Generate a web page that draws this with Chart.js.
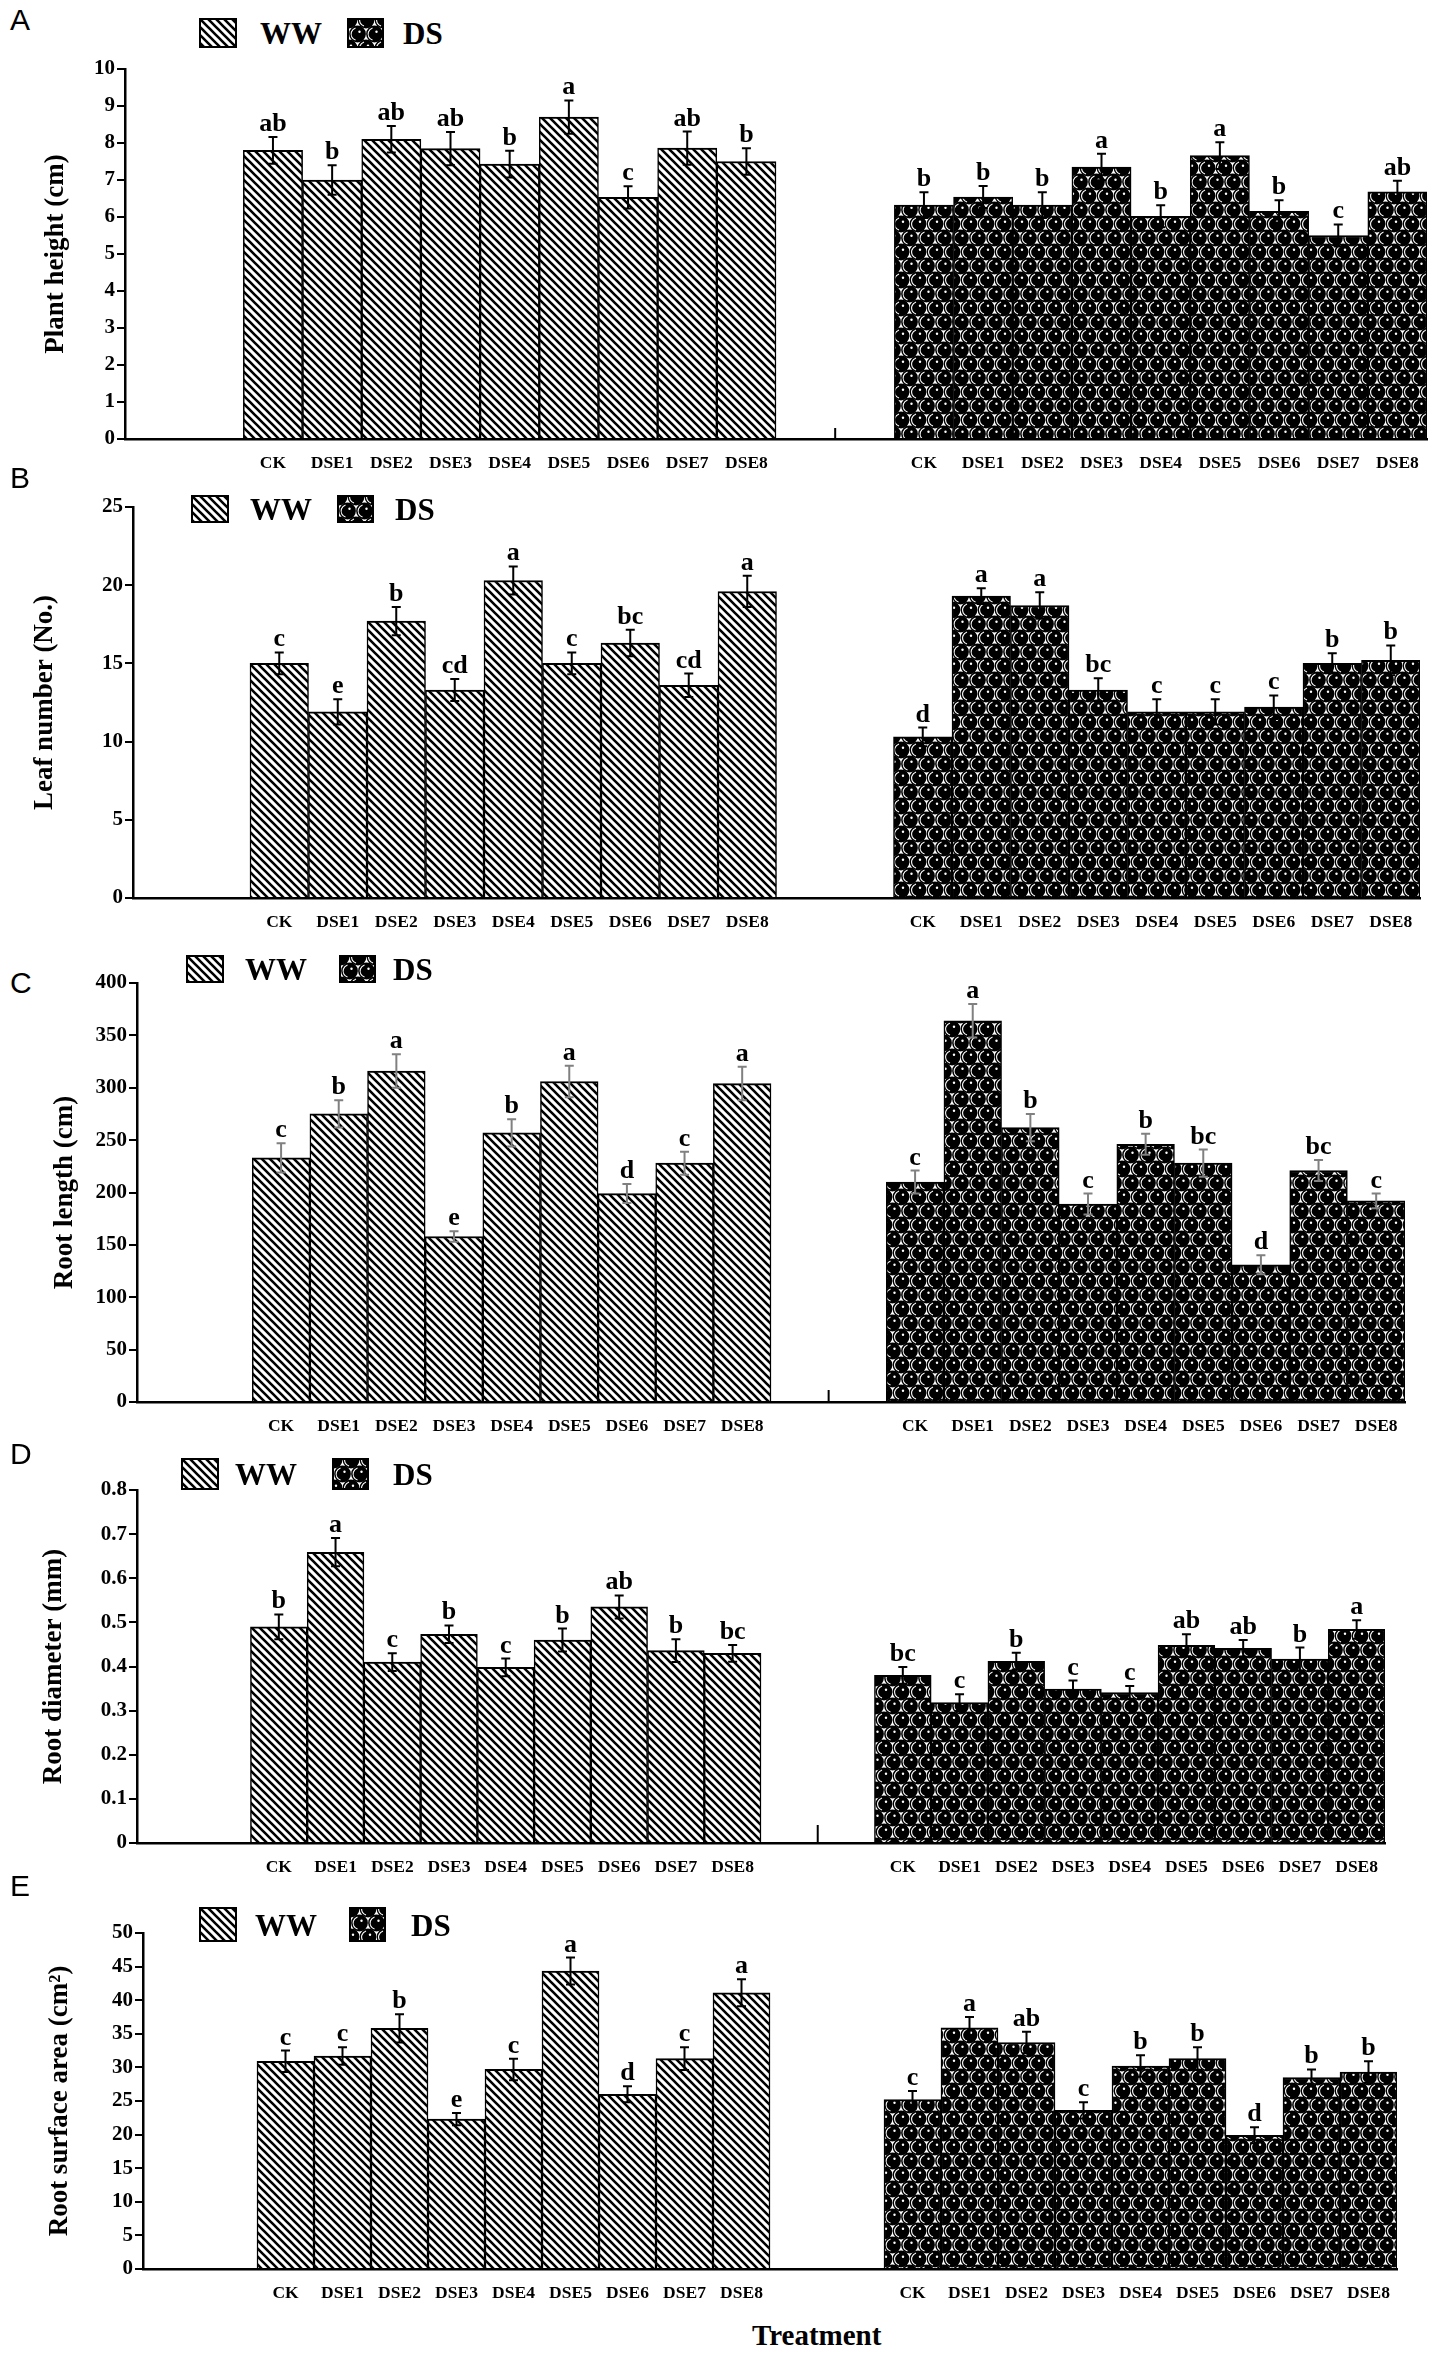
<!DOCTYPE html>
<html>
<head>
<meta charset="utf-8">
<script src="https://cdn.jsdelivr.net/npm/chart.js@4.4.1/dist/chart.umd.min.js"></script>
<style>
html,body{margin:0;padding:0;background:#fff;}
#page{position:relative;width:1450px;height:2359px;overflow:hidden;background:#fff;}
canvas.panel{position:absolute;left:0;}
.plet{position:absolute;font-family:"Liberation Sans",Arial,sans-serif;font-size:30px;line-height:1;color:#000;}
.lbox{position:absolute;border:2px solid #000;box-sizing:border-box;}
.ltxt{position:absolute;font-family:"Liberation Serif","Times New Roman",serif;font-weight:bold;font-size:31px;line-height:1;color:#000;}
#xtitle{position:absolute;left:752px;top:2321px;font-family:"Liberation Serif","Times New Roman",serif;font-weight:bold;font-size:29px;line-height:1;color:#000;}
</style>
</head>
<body>
<div id="page"><div id="xtitle">Treatment</div></div>
<script>
// ---------------- DATA ----------------
const categories = ['CK','DSE1','DSE2','DSE3','DSE4','DSE5','DSE6','DSE7','DSE8'];
const seriesNames = ['WW','DS'];

// A: Plant height (cm)
const heightWW    = [7.8, 7.0, 8.1, 7.85, 7.43, 8.7, 6.53, 7.86, 7.5];
const heightWWErr = [0.36, 0.4, 0.36, 0.45, 0.36, 0.45, 0.3, 0.45, 0.36];
const heightWWSig = ['ab','b','ab','ab','b','a','c','ab','b'];
const heightDS    = [6.32, 6.54, 6.32, 7.35, 6.02, 7.66, 6.15, 5.5, 6.68];
const heightDSErr = [0.35, 0.3, 0.35, 0.36, 0.3, 0.36, 0.3, 0.3, 0.3];
const heightDSSig = ['b','b','b','a','b','a','b','c','ab'];

// B: Leaf number (No.)
const leafWW    = [15.0, 11.9, 17.7, 13.3, 20.3, 15.0, 16.3, 13.6, 19.6];
const leafWWErr = [0.7, 0.8, 0.9, 0.7, 0.9, 0.7, 0.85, 0.75, 1.0];
const leafWWSig = ['c','e','b','cd','a','c','bc','cd','a'];
const leafDS    = [10.3, 19.3, 18.7, 13.3, 11.9, 11.9, 12.2, 15.0, 15.2];
const leafDSErr = [0.6, 0.5, 0.85, 0.75, 0.8, 0.8, 0.75, 0.65, 0.95];
const leafDSSig = ['d','a','a','bc','c','c','c','b','b'];

// C: Root length (cm)
const lengthWW    = [233, 275, 316, 158, 257, 306, 199, 228, 304];
const lengthWWErr = [14, 13, 16, 5, 13, 15, 9, 11, 16];
const lengthWWSig = ['c','b','a','e','b','a','d','c','a'];
const lengthDS    = [210, 364, 262, 189, 246, 228, 131, 221, 192];
const lengthDSErr = [11, 16, 13, 10, 10, 13, 9, 10, 7];
const lengthDSSig = ['c','a','b','c','b','bc','d','bc','c'];

// D: Root diameter (mm)
const diamWW    = [0.49, 0.659, 0.41, 0.473, 0.398, 0.46, 0.535, 0.436, 0.43];
const diamWWErr = [0.028, 0.032, 0.02, 0.02, 0.02, 0.026, 0.026, 0.026, 0.019];
const diamWWSig = ['b','a','c','b','c','b','ab','b','bc'];
const diamDS    = [0.38, 0.318, 0.412, 0.349, 0.341, 0.448, 0.441, 0.417, 0.484];
const diamDSErr = [0.019, 0.019, 0.019, 0.019, 0.015, 0.025, 0.019, 0.026, 0.021];
const diamDSSig = ['bc','c','b','c','c','ab','ab','b','a'];

// E: Root surface area (cm2)
const areaWW    = [30.9, 31.7, 35.8, 22.3, 29.7, 44.35, 26.0, 31.3, 41.1];
const areaWWErr = [1.6, 1.3, 2.1, 0.9, 1.6, 2.0, 1.2, 1.7, 2.0];
const areaWWSig = ['c','c','b','e','c','a','d','c','a'];
const areaDS    = [25.2, 35.9, 33.7, 23.6, 30.2, 31.3, 19.9, 28.5, 29.3];
const areaDSErr = [1.3, 1.6, 1.6, 1.2, 1.6, 1.7, 1.2, 1.2, 1.6];
const areaDSSig = ['c','a','ab','c','b','b','d','b','b'];

// y-axis titles and ranges
const yTitles = ['Plant height (cm)','Leaf number (No.)','Root length (cm)','Root diameter (mm)','Root surface area (cm²)'];
const yMax  = [10, 25, 400, 0.8, 50];
const yStep = [1, 5, 50, 0.1, 5];
const panelLetters = ['A','B','C','D','E'];

// ---------------- PATTERNS ----------------
function makeHatchTile() {
  const t = document.createElement('canvas'); t.width = 8; t.height = 8;
  const c = t.getContext('2d');
  c.fillStyle = '#fff'; c.fillRect(0,0,8,8);
  c.strokeStyle = '#000'; c.lineWidth = 2.6;
  c.beginPath();
  c.moveTo(-2,-2); c.lineTo(10,10);
  c.moveTo(-2,6); c.lineTo(2,10);
  c.moveTo(6,-2); c.lineTo(10,2);
  c.stroke();
  return t;
}
function makeDotTile() {
  const w = 17, h = 28;
  const t = document.createElement('canvas'); t.width = w; t.height = h;
  const c = t.getContext('2d');
  c.fillStyle = '#fff'; c.fillRect(0,0,w,h);
  const centers = [[0,0],[w,0],[0,h],[w,h],[w/2,h/2]];
  centers.forEach(([cx,cy]) => {
    c.fillStyle = '#000';
    c.beginPath(); c.arc(cx,cy,8.4,0,Math.PI*2); c.fill();
  });
  centers.forEach(([cx,cy]) => {
    c.strokeStyle = '#fff'; c.lineWidth = 1.1;
    c.beginPath(); c.arc(cx,cy,6.4,Math.PI*0.6,Math.PI*1.4); c.stroke();
    c.fillStyle = '#fff';
    c.beginPath(); c.arc(cx+2,cy-2.2,1.2,0,Math.PI*2); c.fill();
  });
  return t;
}
const hatchTile = makeHatchTile();
const dotTile = makeDotTile();
const tmpCtx = document.createElement('canvas').getContext('2d');
const wwPattern = tmpCtx.createPattern(hatchTile, 'repeat');
const dsPattern = tmpCtx.createPattern(dotTile, 'repeat');

// ---------------- PLUGIN: error bars, letters, separator ----------------
const errorBarsPlugin = {
  id: 'errorBars',
  afterDatasetsDraw(chart, args, opts) {
    const ctx = chart.ctx;
    const ys = chart.scales.y, xs = chart.scales.x;
    chart.data.datasets.forEach((ds, di) => {
      const meta = chart.getDatasetMeta(di);
      meta.data.forEach((bar, i) => {
        const v = ds.data[i];
        if (v === null || v === undefined) return;
        const e = ds.errors[i];
        const x = bar.x;
        const yt = ys.getPixelForValue(v + e);
        const yb = ys.getPixelForValue(v - e);
        ctx.save();
        ctx.strokeStyle = opts.color || '#000';
        ctx.lineWidth = 2;
        ctx.beginPath();
        ctx.moveTo(x, yb); ctx.lineTo(x, yt);
        ctx.moveTo(x - 4.5, yt); ctx.lineTo(x + 4.5, yt);
        ctx.moveTo(x - 4.5, yb); ctx.lineTo(x + 4.5, yb);
        ctx.stroke();
        ctx.fillStyle = '#000';
        ctx.font = 'bold 26px "Liberation Serif", "Times New Roman", serif';
        ctx.textAlign = 'center';
        ctx.textBaseline = 'alphabetic';
        ctx.fillText(ds.sig[i], x, yt - 6);
        ctx.restore();
      });
    });
    if (opts.sep) {
      const sx = xs.getPixelForValue(categories.length + 2.5);
      const by = ys.getPixelForValue(0);
      ctx.save();
      ctx.strokeStyle = '#000'; ctx.lineWidth = 2;
      ctx.beginPath(); ctx.moveTo(sx, by); ctx.lineTo(sx, by - opts.sep); ctx.stroke();
      ctx.restore();
    }
  }
};

// ---------------- PANELS ----------------
const panels = [
  {ww: heightWW, wwErr: heightWWErr, wwSig: heightWWSig, ds: heightDS, dsErr: heightDSErr, dsSig: heightDSSig,
   top: 0, height: 489, padTop: 69, left: 125, right: 1427, titlePad: 40, sep: 11, err: '#000',
   letterTop: 5, legend: {top: 18, h: 30, wwBox: 199, wwText: 260, dsBox: 347, dsText: 403}},
  {ww: leafWW, wwErr: leafWWErr, wwSig: leafWWSig, ds: leafDS, dsErr: leafDSErr, dsSig: leafDSSig,
   top: 470, height: 478, padTop: 37, left: 133, right: 1420, titlePad: 29, sep: 0, err: '#000',
   letterTop: 463, legend: {top: 495, h: 28, wwBox: 191, wwText: 250, dsBox: 337, dsText: 395}},
  {ww: lengthWW, wwErr: lengthWWErr, wwSig: lengthWWSig, ds: lengthDS, dsErr: lengthDSErr, dsSig: lengthDSSig,
   top: 945, height: 507, padTop: 38, left: 137, right: 1405, titlePad: 49, sep: 12, err: '#808080',
   letterTop: 968, legend: {top: 955, h: 28, wwBox: 186, wwText: 245, dsBox: 339, dsText: 393}},
  {ww: diamWW, wwErr: diamWWErr, wwSig: diamWWSig, ds: diamDS, dsErr: diamDSErr, dsSig: diamDSSig,
   top: 1440, height: 453, padTop: 50, left: 137, right: 1385, titlePad: 38, sep: 18, err: '#000',
   letterTop: 1439, legend: {top: 1458, h: 32, wwBox: 181, wwText: 235, dsBox: 332, dsText: 393}},
  {ww: areaWW, wwErr: areaWWErr, wwSig: areaWWSig, ds: areaDS, dsErr: areaDSErr, dsSig: areaDSSig,
   top: 1895, height: 424, padTop: 38, left: 143, right: 1397, titlePad: 44, sep: 0, err: '#000',
   letterTop: 1871, legend: {top: 1907, h: 35, wwBox: 199, wwText: 255, dsBox: 349, dsText: 411}}
];

const page = document.getElementById('page');
const gap = ['', ''];
const blanks = categories.map(() => null);
const blankStr = categories.map(() => '');
const labels = [...gap, ...categories, ...gap, ...categories];

function addLegend(p) {
  const L = p.legend;
  const mk = (cls, left, top, w, h, bg) => {
    const d = document.createElement('div');
    d.className = cls;
    d.style.left = left + 'px'; d.style.top = top + 'px';
    if (w) { d.style.width = w + 'px'; d.style.height = h + 'px'; }
    if (bg) d.style.backgroundImage = 'url(' + bg + ')';
    page.appendChild(d);
    return d;
  };
  mk('lbox', L.wwBox, L.top, 38, L.h, hatchTile.toDataURL());
  mk('lbox', L.dsBox, L.top, 37, L.h, dotTile.toDataURL());
  const t1 = mk('ltxt', L.wwText, L.top + L.h / 2 - 15);
  t1.textContent = seriesNames[0];
  const t2 = mk('ltxt', L.dsText, L.top + L.h / 2 - 15);
  t2.textContent = seriesNames[1];
}

panels.forEach((p, k) => {
  const letter = document.createElement('div');
  letter.className = 'plet';
  letter.style.left = '10px';
  letter.style.top = p.letterTop + 'px';
  letter.textContent = panelLetters[k];
  page.appendChild(letter);
  addLegend(p);

  const cv = document.createElement('canvas');
  cv.className = 'panel';
  cv.width = 1450; cv.height = p.height;
  cv.style.width = '1450px'; cv.style.height = p.height + 'px';
  cv.style.top = p.top + 'px';
  page.appendChild(cv);

  const tickFont = {family: '"Liberation Serif", "Times New Roman", serif', weight: 'bold', size: 21};
  new Chart(cv, {
    type: 'bar',
    data: {
      labels: labels,
      datasets: [
        {label: seriesNames[0], data: [null, null, ...p.ww, null, null, ...blanks],
         errors: [0, 0, ...p.wwErr, 0, 0, ...blanks], sig: [...gap, ...p.wwSig, ...gap, ...blankStr],
         backgroundColor: wwPattern, borderColor: '#000',
         borderWidth: {top: 2, left: 1.5, right: 1.5, bottom: 0}, borderSkipped: false,
         grouped: false, barPercentage: 1, categoryPercentage: 1},
        {label: seriesNames[1], data: [null, null, ...blanks, null, null, ...p.ds],
         errors: [0, 0, ...blanks, 0, 0, ...p.dsErr], sig: [...gap, ...blankStr, ...gap, ...p.dsSig],
         backgroundColor: dsPattern, borderColor: '#000',
         borderWidth: {top: 2, left: 1.5, right: 1.5, bottom: 0}, borderSkipped: false,
         grouped: false, barPercentage: 1, categoryPercentage: 1}
      ]
    },
    options: {
      responsive: false, animation: false, devicePixelRatio: 1,
      events: [],
      layout: {padding: {top: p.padTop, left: 0, right: 1450 - p.right, bottom: 0}},
      plugins: {
        legend: {display: false}, tooltip: {enabled: false},
        errorBars: {color: p.err, sep: p.sep}
      },
      scales: {
        x: {
          type: 'category', offset: true,
          grid: {display: false, drawTicks: false},
          border: {display: true, color: '#000', width: 2.5},
          ticks: {autoSkip: false, maxRotation: 0, minRotation: 0, padding: 14, color: '#000',
                  font: {family: '"Liberation Serif", "Times New Roman", serif', weight: 'bold', size: 17.5}},
          afterFit: (s) => { s.height = 50; }
        },
        y: {
          min: 0, max: yMax[k],
          ticks: {stepSize: yStep[k], padding: 2, color: '#000', font: tickFont},
          grid: {drawOnChartArea: false, drawTicks: true, tickLength: 8, color: '#000', lineWidth: 2},
          border: {display: true, color: '#000', width: 2.5},
          title: {display: true, text: yTitles[k], color: '#000',
                  font: {family: '"Liberation Serif", "Times New Roman", serif', weight: 'bold', size: 27},
                  padding: {top: p.titlePad, bottom: 0}},
          afterFit: (s) => { s.width = p.left; }
        }
      }
    },
    plugins: [errorBarsPlugin]
  });
});
</script>
</body>
</html>
